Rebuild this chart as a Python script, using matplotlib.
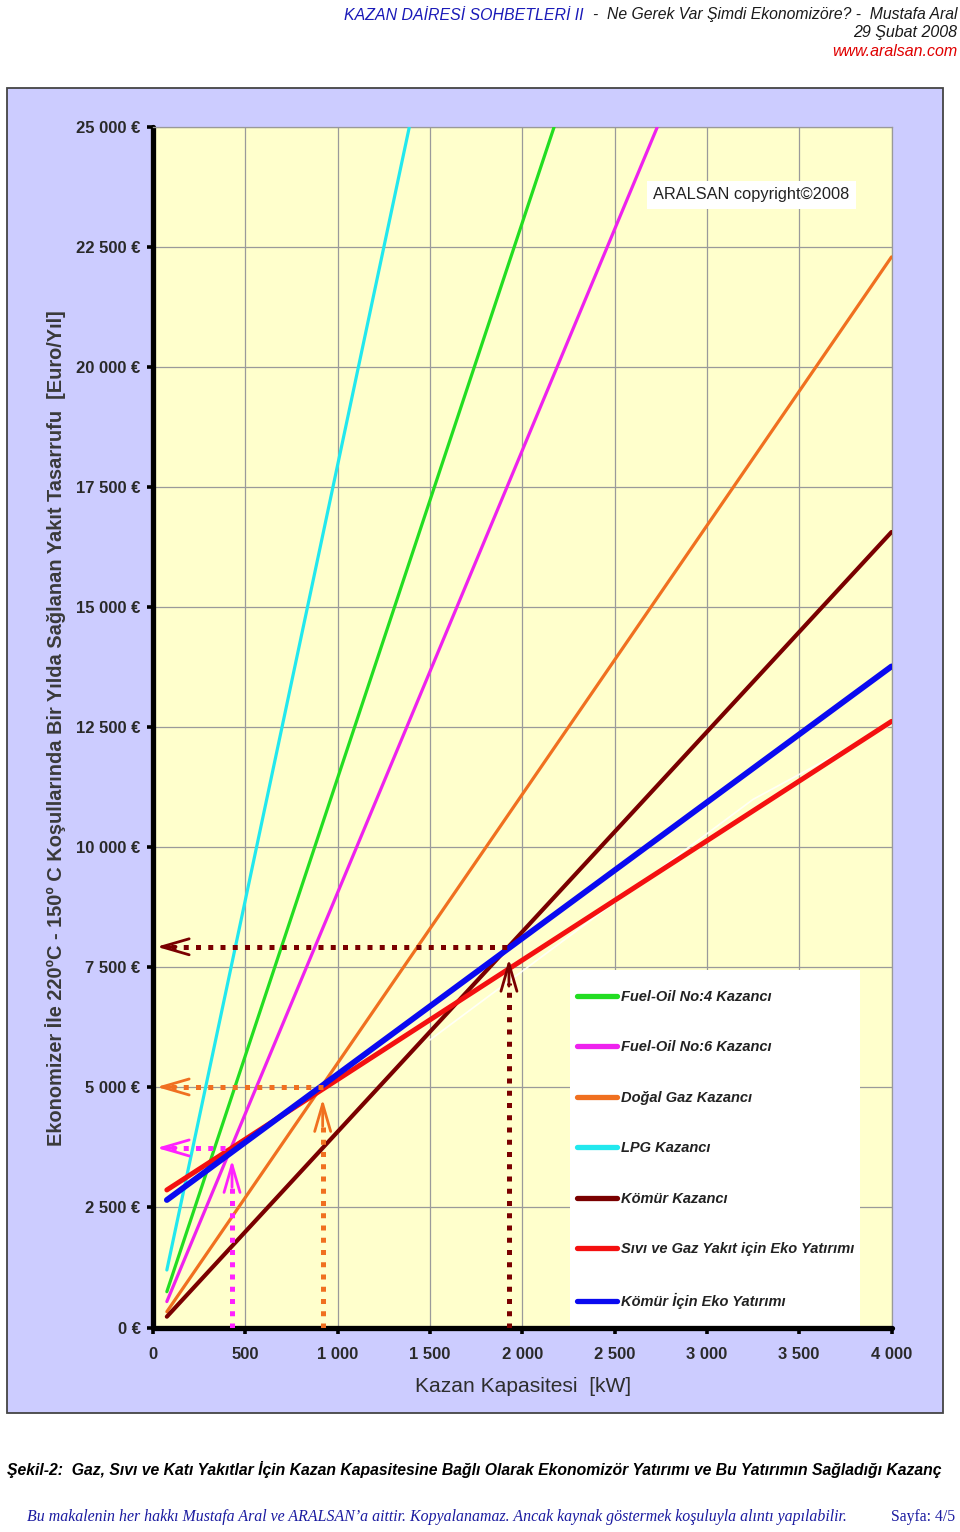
import matplotlib
matplotlib.use("Agg")
import matplotlib.pyplot as plt
from matplotlib.patches import Rectangle
from matplotlib import font_manager

# ---------------- data ----------------
x_ticks = [0, 500, 1000, 1500, 2000, 2500, 3000, 3500, 4000]
x_tick_labels = ["0", "500", "1 000", "1 500", "2 000", "2 500", "3 000", "3 500", "4 000"]
y_ticks = [0, 2500, 5000, 7500, 10000, 12500, 15000, 17500, 20000, 22500, 25000]
y_tick_labels = ["0 €", "2 500 €", "5 000 €", "7 500 €", "10 000 €", "12 500 €",
                 "15 000 €", "17 500 €", "20 000 €", "22 500 €", "25 000 €"]

fo4_kw = [75, 2172]
fo4_eur = [746, 25000]
fo6_kw = [75, 2731]
fo6_eur = [540, 25000]
gaz_kw = [75, 4000]
gaz_eur = [329, 22300]
lpg_kw = [75, 1388]
lpg_eur = [1198, 25000]
komur_kw = [75, 4000]
komur_eur = [225, 16570]
eko_sivi_kw = [75, 4000]
eko_sivi_eur = [2865, 12625]
eko_komur_kw = [75, 4000]
eko_komur_eur = [2656, 13770]
faint_kw = [1500, 3250, 4000]
faint_eur = [5990, 11000, 12560]

series_labels = ["Fuel-Oil No:4 Kazancı", "Fuel-Oil No:6 Kazancı", "Doğal Gaz Kazancı",
                 "LPG Kazancı", "Kömür Kazancı", "Sıvı ve Gaz Yakıt için Eko Yatırımı",
                 "Kömür İçin Eko Yatırımı"]

# break-even points (capacity kW, saving €)
cross_kw = [428, 919, 1928]
cross_eur = [3740, 5010, 7930]

# ---------------- fonts ----------------
_names = {f.name for f in font_manager.fontManager.ttflist}
SANS = "Liberation Sans" if "Liberation Sans" in _names else "DejaVu Sans"
NARROW = "Liberation Sans Narrow" if "Liberation Sans Narrow" in _names else SANS
SERIF = "Liberation Serif" if "Liberation Serif" in _names else "DejaVu Serif"

W, H = 960, 1532
fig = plt.figure(figsize=(W / 100, H / 100), dpi=100)
fig.patch.set_facecolor("white")
renderer = fig.canvas.get_renderer()


def fx(px):
    return px / W


def fy(py):
    return 1 - py / H


def fit_w(t, w):
    bb = t.get_window_extent(renderer=renderer)
    t.set_fontsize(t.get_fontsize() * w / bb.width)


def fit_h(t, h):
    bb = t.get_window_extent(renderer=renderer)
    t.set_fontsize(t.get_fontsize() * h / bb.height)


# lavender panel
fig.patches.append(Rectangle((fx(7), fy(1413)), fx(943) - fx(7), fy(88) - fy(1413),
                             transform=fig.transFigure, facecolor="#CCCCFF",
                             edgecolor="#444444", lw=1.3, zorder=-10))

L, R, T, B = 153, 891.5, 127.3, 1327.5
ax = fig.add_axes([fx(L), fy(B), (R - L) / W, (B - T) / H])
ax.set_zorder(1)
ax.set_facecolor("#FFFFCC")
ax.set_xlim(0, 4000)
ax.set_ylim(0, 25000)
ax.set_axisbelow(True)
ax.grid(True, color="#9a9a9a", lw=0.9)

for s in ["top", "right"]:
    ax.spines[s].set_color("#999999")
    ax.spines[s].set_linewidth(0.9)
for s in ["left", "bottom"]:
    ax.spines[s].set_color("black")
    ax.spines[s].set_linewidth(3.8)
    ax.spines[s].set_capstyle("round")

tick_font = {"family": SANS, "weight": "bold", "size": 12}
ax.set_xticks(x_ticks)
ax.set_xticklabels(x_tick_labels, fontdict=tick_font)
ax.set_yticks(y_ticks)
ax.set_yticklabels(y_tick_labels, fontdict=tick_font)
ax.tick_params(axis="both", direction="out", length=4, width=2.6, color="black",
               labelcolor="#2a2a2a")
ax.tick_params(axis="y", pad=5)
ax.tick_params(axis="x", pad=10)

# legend background box
ax.add_patch(Rectangle(((570 - L) / (R - L), 0), (860 - 570) / (R - L), (B - 970) / (B - T),
                       transform=ax.transAxes, facecolor="white", edgecolor="none", zorder=1.5))

# series
h_fo4, = ax.plot(fo4_kw, fo4_eur, color="#22DD22", lw=2.3, zorder=3, solid_capstyle="round")
h_fo6, = ax.plot(fo6_kw, fo6_eur, color="#EE22EE", lw=2.3, zorder=3, solid_capstyle="round")
h_gaz, = ax.plot(gaz_kw, gaz_eur, color="#F07020", lw=2.3, zorder=3, solid_capstyle="round")
h_lpg, = ax.plot(lpg_kw, lpg_eur, color="#22E8EE", lw=2.3, zorder=3, solid_capstyle="round")
h_kom, = ax.plot(komur_kw, komur_eur, color="#7A0000", lw=3.0, zorder=3.2, solid_capstyle="round")
ax.plot(faint_kw, faint_eur, color="white", lw=1.2, alpha=0.85, zorder=3.1)
h_es, = ax.plot(eko_sivi_kw, eko_sivi_eur, color="#F41010", lw=3.6, zorder=3.4, solid_capstyle="round")
h_ek, = ax.plot(eko_komur_kw, eko_komur_eur, color="#0A0AF0", lw=4.2, zorder=3.5, solid_capstyle="round")

handles = [h_fo4, h_fo6, h_gaz, h_lpg, h_kom, h_es, h_ek]
leg = ax.legend(handles, series_labels, loc="upper left",
                bbox_to_anchor=((577 - L) / (R - L), (B - 990) / (B - T)),
                frameon=False, borderpad=0, borderaxespad=0, handlelength=2.75,
                handletextpad=0.25, labelspacing=2.5,
                prop={"family": SANS, "style": "italic", "weight": "bold", "size": 10.5})
for t in leg.get_texts():
    t.set_color("#222222")
for lh in leg.get_lines():
    lh.set_linewidth(3.8)
    lh.set_solid_capstyle("round")
leg.set_zorder(4)

# break-even dotted arrows
arrow_colors = ["#FF22FF", "#F07020", "#7A0000"]
astyle = "->,head_length=1.1,head_width=0.32"
for kw, eur, c in zip(cross_kw, cross_eur, arrow_colors):
    ax.plot([100, kw], [eur, eur], color=c, lw=3.6, linestyle=(0, (1, 1.45)),
            dash_capstyle="butt", zorder=6)
    ax.plot([kw, kw], [0, eur - 750], color=c, lw=3.6, linestyle=(0, (1, 1.45)),
            dash_capstyle="butt", zorder=6)
    ax.annotate("", xy=(20, eur), xytext=(125, eur),
                arrowprops=dict(arrowstyle=astyle, color=c, lw=2.0, mutation_scale=18,
                                shrinkA=0, shrinkB=0),
                zorder=6)
    ax.annotate("", xy=(kw, eur - 250), xytext=(kw, eur - 820),
                arrowprops=dict(arrowstyle=astyle, color=c, lw=2.0, mutation_scale=18,
                                shrinkA=0, shrinkB=0),
                zorder=6)

# watermark
wm = ax.text((653 - L) / (R - L), (B - 195) / (B - T), "ARALSAN copyright©2008",
             transform=ax.transAxes, ha="left", va="center", fontsize=12,
             family=SANS, color="#222222", zorder=7,
             bbox=dict(facecolor="white", edgecolor="none", pad=4.5))
fit_w(wm, 197)

# axis titles
yt = fig.text(fx(56), fy(728),
              "Ekonomizer İle 220ºC - 150º C Koşullarında Bir Yılda Sağlanan Yakıt Tasarrufu  [Euro/Yıl]",
              rotation=90, ha="center", va="center", family=SANS, weight="bold",
              fontsize=14, color="#3a3a3a")
fit_h(yt, 840)
xt = fig.text(fx(523), fy(1387), "Kazan Kapasitesi  [kW]", ha="center", va="center",
              family=NARROW, fontsize=14, color="#2e2e2e")
fit_w(xt, 218)

# header
h1a = fig.text(fx(344), fy(15), "KAZAN DAİRESİ SOHBETLERİ II", ha="left", va="center",
               family=NARROW, style="italic", fontsize=11, color="#1a1ab8")
fit_w(h1a, 239)
h1b = fig.text(fx(593), fy(15), "-  Ne Gerek Var Şimdi Ekonomizöre? -  Mustafa Aral", ha="left",
               va="center", family=NARROW, style="italic", fontsize=11, color="#1a1a1a")
fit_w(h1b, 364)
h2 = fig.text(fx(957), fy(33), "29 Şubat 2008", ha="right", va="center", family=NARROW,
              style="italic", fontsize=11, color="#1a1a1a")
fit_w(h2, 104)
h3 = fig.text(fx(957), fy(51), "www.aralsan.com", ha="right", va="center", family=NARROW,
              style="italic", fontsize=11, color="#E00000")
fit_w(h3, 125)

# caption
cap = fig.text(fx(7), fy(1470),
               "Şekil-2:  Gaz, Sıvı ve Katı Yakıtlar İçin Kazan Kapasitesine Bağlı Olarak Ekonomizör Yatırımı ve Bu Yatırımın Sağladığı Kazanç",
               ha="left", va="center", family=SANS, weight="bold", style="italic",
               fontsize=10, color="black")
fit_w(cap, 939)

# footer
ft = fig.text(fx(27), fy(1517),
              "Bu makalenin her hakkı Mustafa Aral ve ARALSAN’a aittir. Kopyalanamaz. Ancak kaynak göstermek koşuluyla alıntı yapılabilir.",
              ha="left", va="center", family=SERIF, style="italic", fontsize=11, color="#1a1aa0")
fit_w(ft, 816)
pg = fig.text(fx(955), fy(1517), "Sayfa: 4/5", ha="right", va="center", family=SERIF,
              fontsize=11, color="#1a1aa0")
fit_w(pg, 64)

fig.savefig("out.png", dpi=100, facecolor="white")
